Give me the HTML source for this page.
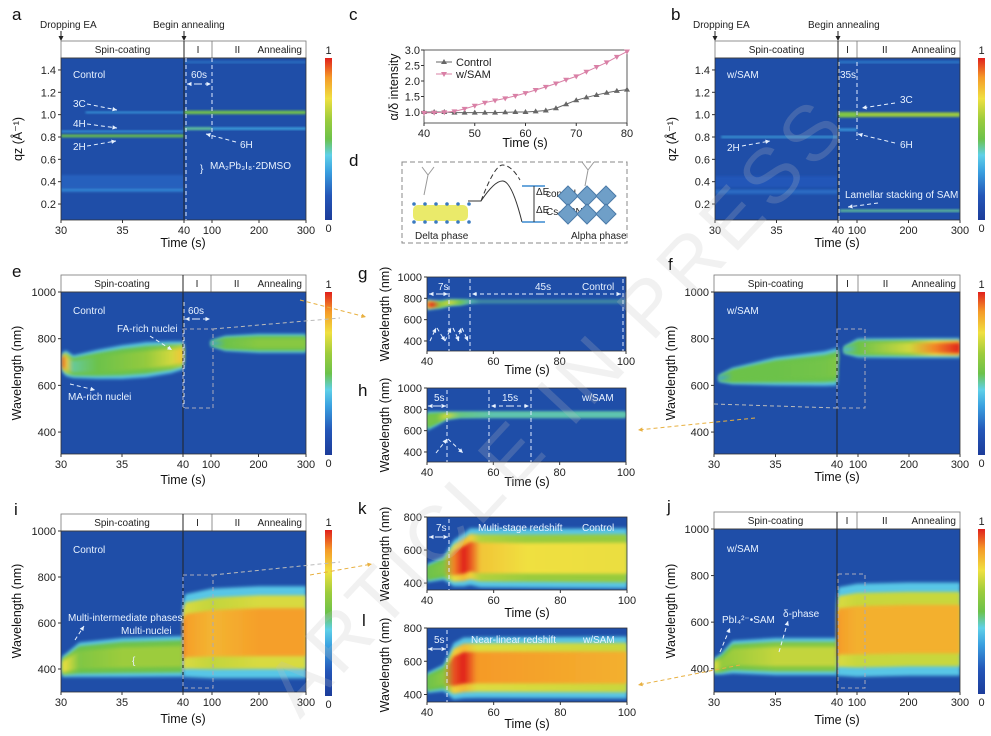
<!DOCTYPE html>
<html><head><meta charset="utf-8">
<style>
html,body{margin:0;padding:0;background:#fff;}
svg{display:block;font-family:"Liberation Sans",Arial,sans-serif;}
.tk{font-size:11px;fill:#222;}
.ttl{font-size:12.5px;fill:#111;}
.ann{font-size:10px;fill:#e8f2ff;}
.hd{font-size:10px;fill:#222;}
.let{font-size:17px;fill:#111;}
</style></head>
<body>
<svg id="fig" width="991" height="736" viewBox="0 0 991 736" xmlns="http://www.w3.org/2000/svg">
<defs>
<filter id="blur" x="-20%" y="-50%" width="140%" height="200%"><feGaussianBlur stdDeviation="1.6"/></filter>
<filter id="blur2" x="-20%" y="-50%" width="140%" height="200%"><feGaussianBlur stdDeviation="1"/></filter>
<linearGradient id="cbar" x1="0" y1="1" x2="0" y2="0">
<stop offset="0" stop-color="#1c3c9a"/><stop offset="0.15" stop-color="#2456b8"/><stop offset="0.3" stop-color="#3aa0e0"/><stop offset="0.4" stop-color="#5fd0e8"/><stop offset="0.5" stop-color="#6cc24a"/><stop offset="0.62" stop-color="#9ccc3c"/><stop offset="0.75" stop-color="#f0e040"/><stop offset="0.88" stop-color="#f59a28"/><stop offset="1" stop-color="#e0201c"/>
</linearGradient>
</defs>
<g id="root"></g>
</svg>
<script>
// ---------- DATA ----------
// panel c
const cTime = [40,42,44,46,48,50,52,54,56,58,60,62,64,66,68,70,72,74,76,78,80];
const cControl = [1.0,1.0,1.0,0.98,0.98,0.98,0.98,0.98,0.99,1.0,1.0,1.02,1.05,1.12,1.25,1.38,1.47,1.55,1.62,1.68,1.72];
const cSAM = [0.97,0.98,0.99,1.02,1.1,1.2,1.3,1.37,1.44,1.52,1.61,1.71,1.81,1.92,2.04,2.15,2.3,2.45,2.6,2.78,2.95];
const cYTicks = [1.0,1.5,2.0,2.5,3.0];
const cXTicks = [40,50,60,70,80];
// panel a bands (GIWAXS)
const aBandQ = [0.81,0.85,1.02,0.33,0.40,1.02,0.875,0.875,1.47,0.65,0.5,0.45];
const aBandStart = [30,30,32,30,30,40,40,100,40,40,40,40];
const aBandEnd = [40,40,40,40,40,300,100,300,300,41,41,41];
const aBandI = [0.5,0.3,0.3,0.24,0.17,0.52,0.45,0.32,0.22,0.2,0.2,0.2];
const aBandW = [0.025,0.015,0.015,0.04,0.12,0.03,0.025,0.02,0.015,0.01,0.01,0.01];
// panel b bands
const bBandQ = [0.80,1.0,1.0,0.865,1.47,0.14,0.31,0.40];
const bBandStart = [30.5,40,100,40,40,46,30,30];
const bBandEnd = [40,100,300,100,300,300,40,40];
const bBandI = [0.32,0.55,0.62,0.3,0.25,0.45,0.19,0.15];
const bBandW = [0.015,0.05,0.04,0.02,0.015,0.02,0.04,0.1];
// spectral heatmaps: segments of columns (time, centre nm, half-width nm, intensity)
const eTime = [[30.1,30.4,31,33,35,37,39,40,41.5],[100,130,200,300]];
const eCentre = [[700,695,680,690,700,710,720,728,740],[780,780,780,780]];
const eHalf = [[40,55,48,62,72,75,68,60,40],[12,32,40,40]];
const eInt = [[1.0,0.8,0.45,0.5,0.55,0.6,0.7,0.8,0.75],[0.3,0.5,0.57,0.57]];
const fTime = [[30.4,31.5,35,39,40,41,43],[60,100,200,250,300]];
const fCentre = [[630,640,660,672,680,720,735],[752,760,760,760,760]];
const fHalf = [[14,35,60,74,80,45,25],[15,40,42,42,42]];
const fInt = [[0.3,0.5,0.5,0.52,0.55,0.65,0.55],[0.35,0.5,0.7,0.9,1.0]];
const iTime = [[30.1,30.6,31.5,35,40],[40.3,41,45,100,200,300]];
const iCentre = [[410,420,440,450,455],[520,530,545,555,560,560]];
const iHalf = [[45,55,75,85,88],[150,165,180,195,200,200]];
const iInt = [[0.75,0.7,0.55,0.62,0.62],[1.0,0.95,0.87,0.83,0.87,0.87]];
const jTime = [[30,30.6,31.5,35,40],[40.3,41,45,100,200,300]];
const jCentre = [[410,420,450,452,452],[520,540,560,565,570,570]];
const jHalf = [[35,45,70,80,80],[150,175,190,200,200,200]];
const jInt = [[0.75,0.6,0.62,0.68,0.68],[1.0,0.95,0.87,0.84,0.84,0.84]];
const gTime = [[40,41.5,44,47,50,53,56,100]];
const gCentre = [[740,740,742,760,762,770,770,770]];
const gHalf = [[50,42,35,28,25,12,6,6]];
const gInt = [[0.9,1.0,0.62,0.72,0.52,0.35,0.2,0.18]];
const hTime = [[40,43,46,50,60,100]];
const hCentre = [[690,715,740,748,750,750]];
const hHalf = [[90,65,35,26,25,25]];
const hInt = [[0.52,0.52,0.72,0.45,0.38,0.38]];
const kTime = [[40,45,48,51,53,56,70,100]];
const kCentre = [[460,490,520,540,560,552,550,550]];
const kHalf = [[55,70,140,160,172,178,178,182]];
const kInt = [[0.5,0.55,0.9,1.0,0.95,0.8,0.75,0.74]];
const lTime = [[40,45,48,51,55,100]];
const lCentre = [[470,500,540,560,562,562]];
const lHalf = [[60,80,170,182,182,186]];
const lInt = [[0.5,0.58,0.95,1.0,0.88,0.84]];
const pieceTicks = [30,35,40,100,200,300];
const linTicks = [40,60,80,100];

// ---------- HELPERS ----------
const NS='http://www.w3.org/2000/svg';
const root=document.getElementById('root');
function el(tag,attrs,name,parent,inter){
  const e=document.createElementNS(NS,tag);
  for(const k in attrs) e.setAttribute(k,attrs[k]);
  
  
  (parent||root).appendChild(e); return e;
}
function txt(x,y,s,cls,name,extra,parent){
  const a=Object.assign({x:x,y:y,class:cls},extra||{});
  const t=el('text',a,name,parent); t.textContent=s; return t;
}
const CM=[[0,[28,60,154]],[0.15,[36,86,184]],[0.3,[58,160,224]],[0.4,[95,208,232]],[0.5,[108,194,74]],[0.62,[156,204,60]],[0.75,[240,224,64]],[0.88,[245,154,40]],[1,[224,32,28]]];
function cmap(v){v=Math.max(0,Math.min(1,v));for(let i=1;i<CM.length;i++){if(v<=CM[i][0]){const a=CM[i-1],b=CM[i];const f=(v-a[0])/(b[0]-a[0]);const c=a[1].map((q,j)=>Math.round(q+(b[1][j]-q)*f));return 'rgb('+c.join(',')+')';}}return 'rgb(224,32,28)';}
let gid=0;
function makeX(c){
  if(c.piece){return t=>{if(t<=40)return c.x0+(t-30)/10*(c.x40-c.x0);if(t<=100)return c.x40+(t-40)/60*(c.x100-c.x40);return c.x100+(t-100)/200*(c.x1-c.x100);};}
  return t=>c.x0+(t-c.tMin)/(c.tMax-c.tMin)*(c.x1-c.x0);
}
function makeY(c){return v=>c.y1-(v-c.vMin)/(c.vMax-c.vMin)*(c.y1-c.y0);}
function frame(c,name){
  const g=el('g',{},name);
  el('rect',{x:c.x0,y:c.y0,width:c.x1-c.x0,height:c.y1-c.y0,fill:'#1f4ea8'},name+'-background',g);
  const cp=el('clipPath',{id:'clip'+(++gid)},name+'-clip',g);
  el('rect',{x:c.x0,y:c.y0,width:c.x1-c.x0,height:c.y1-c.y0},name+'-clip-rect',cp);
  const inner=el('g',{'clip-path':'url(#clip'+gid+')'},name+'-marks',g);
  c.g=g;c.inner=inner;c.X=makeX(c);c.Y=makeY(c);return c;
}
function axes(c,name,yTicks,yFmt,xTicks){
  const g=c.g;
  el('rect',{x:c.x0,y:c.y0,width:c.x1-c.x0,height:c.y1-c.y0,fill:'none',stroke:'#333','stroke-width':0.8},name+'-axes-box',g);
  yTicks.forEach(v=>{const y=c.Y(v);
    el('line',{x1:c.x0-3,x2:c.x0,y1:y,y2:y,stroke:'#333'},name+'-y-tick',g);
    txt(c.x0-5,y+4,yFmt(v),'tk',name+'-y-tick-label',{'text-anchor':'end'},g);});
  xTicks.forEach(v=>{const x=c.X(v);
    el('line',{x1:x,x2:x,y1:c.y1,y2:c.y1+3,stroke:'#333'},name+'-x-tick',g);
    txt(x,c.y1+14,String(v),'tk',name+'-x-tick-label',{'text-anchor':'middle'},g);});
}
function header(c,name){
  const g=c.g,h=17,y=c.y0-h;
  el('rect',{x:c.x0,y:y,width:c.x1-c.x0,height:h,fill:'#fff',stroke:'#777','stroke-width':0.8},name+'-header',g);
  el('line',{x1:c.x40,x2:c.x40,y1:y,y2:c.y1,stroke:'#222','stroke-width':1},name+'-divider-40',g);
  el('line',{x1:c.x100,x2:c.x100,y1:y,y2:c.y0,stroke:'#777','stroke-width':0.8},name+'-divider-100',g);
  txt((c.x0+c.x40)/2,y+12,'Spin-coating','hd',name+'-header-spin',{'text-anchor':'middle'},g);
  txt((c.x40+c.x100)/2,y+12,'I','hd',name+'-header-I',{'text-anchor':'middle'},g);
  txt(c.x100+(c.x1-c.x100)*0.27,y+12,'II','hd',name+'-header-II',{'text-anchor':'middle'},g);
  txt(c.x1-4,y+12,'Annealing','hd',name+'-header-annealing',{'text-anchor':'end'},g);
}
function bands(c,Q,S,E,I,W,name){
  for(let i=0;i<Q.length;i++){
    const x0=c.X(S[i]),x1=c.X(E[i]),yt=c.Y(Q[i]+W[i]/2),yb=c.Y(Q[i]-W[i]/2);
    el('rect',{x:x0,y:yt,width:Math.max(1,x1-x0),height:Math.max(1.5,yb-yt),fill:cmap(I[i]),filter:'url(#blur2)'},name+'-band',c.inner);
  }
}
function blobs(c,T,C,H,I,name){
  const layers=[[1.0,v=>0.38],[0.8,v=>Math.max(0.5,v*0.82)],[0.52,v=>v]];
  for(let s=0;s<T.length;s++){
    const t=T[s];const xs=t.map(c.X);const xmin=xs[0],xmax=xs[xs.length-1];
    layers.forEach((L,li)=>{
      const id='bg'+(++gid);
      const gr=el('linearGradient',{id:id,gradientUnits:'userSpaceOnUse',x1:xmin,x2:xmax,y1:0,y2:0},name+'-gradient',c.inner);
      xs.forEach((x,k)=>{el('stop',{offset:((x-xmin)/(xmax-xmin||1)).toFixed(4),'stop-color':cmap(L[1](I[s][k]))},name+'-stop',gr);});
      let pts=[];
      for(let k=0;k<t.length;k++)pts.push(xs[k]+','+c.Y(C[s][k]+H[s][k]*L[0]));
      for(let k=t.length-1;k>=0;k--)pts.push(xs[k]+','+c.Y(C[s][k]-H[s][k]*L[0]));
      el('polygon',{points:pts.join(' '),fill:'url(#'+id+')',filter:'url(#blur)'},name+'-layer-'+li,c.inner);
    });
  }
}
function cbar(x,y0,y1,name){
  el('rect',{x:x,y:y0,width:7,height:y1-y0,fill:'url(#cbar)'},name,root);
  txt(x+3.5,y0-4,'1','tk',name+'-max',{'text-anchor':'middle'});
  txt(x+3.5,y1+12,'0','tk',name+'-min',{'text-anchor':'middle'});
}
function vtitle(x,y,s,name,size){txt(x,y,s,'ttl',name,{'text-anchor':'middle',transform:'rotate(-90 '+x+' '+y+')','font-size':size||12.5});}
function dash(x1,y1,x2,y2,name,col,w){el('line',{x1:x1,y1:y1,x2:x2,y2:y2,stroke:col||'#dfe9ff','stroke-width':w||1,'stroke-dasharray':'4 3'},name);}
function arrow(x1,y1,x2,y2,name,col){
  col=col||'#e8f2ff';dash(x1,y1,x2,y2,name,col);
  const a=Math.atan2(y2-y1,x2-x1),L=5;
  const p=[x2+','+y2,(x2-L*Math.cos(a-0.45))+','+(y2-L*Math.sin(a-0.45)),(x2-L*Math.cos(a+0.45))+','+(y2-L*Math.sin(a+0.45))];
  el('polygon',{points:p.join(' '),fill:col},name+'-head');
}
const f1=v=>v.toFixed(1);const f0=v=>String(v);

// ---------- PANEL a ----------
const A=frame({piece:1,x0:61,x40:184,x100:212,x1:306,y0:58,y1:220,vMin:0.057,vMax:1.507},'panel-a');
bands(A,aBandQ,aBandStart,aBandEnd,aBandI,aBandW,'panel-a');
header(A,'panel-a');axes(A,'panel-a',[0.2,0.4,0.6,0.8,1.0,1.2,1.4],f1,pieceTicks);
// ---------- PANEL b ----------
const B=frame({piece:1,x0:715,x40:838,x100:857,x1:960,y0:58,y1:220,vMin:0.057,vMax:1.507},'panel-b');
bands(B,bBandQ,bBandStart,bBandEnd,bBandI,bBandW,'panel-b');
header(B,'panel-b');axes(B,'panel-b',[0.2,0.4,0.6,0.8,1.0,1.2,1.4],f1,pieceTicks);
// ---------- PANEL e,f,i,j ----------
const E=frame({piece:1,x0:61,x40:183,x100:211,x1:306,y0:292,y1:454,vMin:306,vMax:1000},'panel-e');
blobs(E,eTime,eCentre,eHalf,eInt,'panel-e');header(E,'panel-e');axes(E,'panel-e',[400,600,800,1000],f0,pieceTicks);
const F=frame({piece:1,x0:714,x40:837,x100:858,x1:960,y0:292,y1:454,vMin:306,vMax:1000},'panel-f');
blobs(F,fTime,fCentre,fHalf,fInt,'panel-f');header(F,'panel-f');axes(F,'panel-f',[400,600,800,1000],f0,pieceTicks);
const I=frame({piece:1,x0:61,x40:183,x100:212,x1:306,y0:531,y1:692,vMin:300,vMax:1000},'panel-i');
blobs(I,iTime,iCentre,iHalf,iInt,'panel-i');header(I,'panel-i');axes(I,'panel-i',[400,600,800,1000],f0,pieceTicks);
const J=frame({piece:1,x0:714,x40:837,x100:857,x1:960,y0:529,y1:692,vMin:300,vMax:1000},'panel-j');
blobs(J,jTime,jCentre,jHalf,jInt,'panel-j');header(J,'panel-j');axes(J,'panel-j',[400,600,800,1000],f0,pieceTicks);
// ---------- PANEL g,h,k,l ----------
const G=frame({tMin:40,tMax:100,x0:427,x1:626,y0:277,y1:351,vMin:306,vMax:1000},'panel-g');
blobs(G,gTime,gCentre,gHalf,gInt,'panel-g');axes(G,'panel-g',[400,600,800,1000],f0,linTicks);
const H=frame({tMin:40,tMax:100,x0:427,x1:626,y0:388,y1:462,vMin:306,vMax:1000},'panel-h');
blobs(H,hTime,hCentre,hHalf,hInt,'panel-h');axes(H,'panel-h',[400,600,800,1000],f0,linTicks);
const K=frame({tMin:40,tMax:100,x0:427,x1:627,y0:517,y1:590,vMin:358,vMax:800},'panel-k');
blobs(K,kTime,kCentre,kHalf,kInt,'panel-k');axes(K,'panel-k',[400,600,800],f0,linTicks);
const L=frame({tMin:40,tMax:100,x0:427,x1:627,y0:628,y1:702,vMin:355,vMax:800},'panel-l');
blobs(L,lTime,lCentre,lHalf,lInt,'panel-l');axes(L,'panel-l',[400,600,800],f0,linTicks);

// ---------- PANEL c ----------
const Cc={tMin:40,tMax:80,x0:424,x1:627,y0:50,y1:123,vMin:0.645,vMax:3.0};
Cc.X=makeX(Cc);Cc.Y=makeY(Cc);
const cg=el('g',{},'panel-c');
el('rect',{x:Cc.x0,y:Cc.y0,width:Cc.x1-Cc.x0,height:Cc.y1-Cc.y0,fill:'#fff',stroke:'#333','stroke-width':0.8},'panel-c-axes-box',cg);
cYTicks.forEach(v=>{const y=Cc.Y(v);el('line',{x1:Cc.x0-3,x2:Cc.x0,y1:y,y2:y,stroke:'#333'},'panel-c-y-tick',cg);txt(Cc.x0-4,y+4,v.toFixed(1),'tk','panel-c-y-tick-label',{'text-anchor':'end'},cg);});
cXTicks.forEach(v=>{const x=Cc.X(v);el('line',{x1:x,x2:x,y1:Cc.y1,y2:Cc.y1+3,stroke:'#333'},'panel-c-x-tick',cg);txt(x,Cc.y1+14,String(v),'tk','panel-c-x-tick-label',{'text-anchor':'middle'},cg);});
function series(vals,col,up,name){
  el('polyline',{points:cTime.map((t,i)=>Cc.X(t)+','+Cc.Y(vals[i])).join(' '),fill:'none',stroke:col,'stroke-width':1},name+'-line',cg);
  cTime.forEach((t,i)=>{const x=Cc.X(t),y=Cc.Y(vals[i]);const p=up?[x+','+(y-3),(x-3)+','+(y+2),(x+3)+','+(y+2)]:[x+','+(y+3),(x-3)+','+(y-2),(x+3)+','+(y-2)];
    el('polygon',{points:p.join(' '),fill:col},name+'-marker',cg);});
}
series(cControl,'#666',true,'series-control');
series(cSAM,'#d980a6',false,'series-sam');
el('line',{x1:436,x2:452,y1:62,y2:62,stroke:'#666'},'legend-control-line',cg);
el('polygon',{points:'444,59 441,64 447,64',fill:'#666'},'legend-control-marker',cg);
txt(456,66,'Control','tk','legend-control-label',{},cg);
el('line',{x1:436,x2:452,y1:74,y2:74,stroke:'#d980a6'},'legend-sam-line',cg);
el('polygon',{points:'444,77 441,72 447,72',fill:'#d980a6'},'legend-sam-marker',cg);
txt(456,78,'w/SAM','tk','legend-sam-label',{},cg);
vtitle(398,87,'α/δ intensity','panel-c-y-title',12);
txt(525,147,'Time (s)','ttl','panel-c-x-title',{'text-anchor':'middle'});

// ---------- colorbars ----------
cbar(325,58,220,'colorbar-a');cbar(978,58,220,'colorbar-b');
cbar(325,292,455,'colorbar-e');cbar(978,292,455,'colorbar-f');
cbar(325,530,696,'colorbar-i');cbar(978,529,694,'colorbar-j');

// ---------- axis titles ----------
vtitle(22,139,'qz (Å⁻¹)','panel-a-y-title',14);vtitle(676,139,'qz (Å⁻¹)','panel-b-y-title',14);
txt(183,247,'Time (s)','ttl','panel-a-x-title',{'text-anchor':'middle'});
txt(837,247,'Time (s)','ttl','panel-b-x-title',{'text-anchor':'middle'});
vtitle(21,373,'Wavelength (nm)','panel-e-y-title');vtitle(675,373,'Wavelength (nm)','panel-f-y-title');
vtitle(21,611,'Wavelength (nm)','panel-i-y-title');vtitle(675,611,'Wavelength (nm)','panel-j-y-title');
txt(183,484,'Time (s)','ttl','panel-e-x-title',{'text-anchor':'middle'});
txt(837,481,'Time (s)','ttl','panel-f-x-title',{'text-anchor':'middle'});
txt(183,723,'Time (s)','ttl','panel-i-x-title',{'text-anchor':'middle'});
txt(837,724,'Time (s)','ttl','panel-j-x-title',{'text-anchor':'middle'});
vtitle(389,314,'Wavelength (nm)','panel-g-y-title',10);vtitle(389,425,'Wavelength (nm)','panel-h-y-title',10);
vtitle(389,554,'Wavelength (nm)','panel-k-y-title',10);vtitle(389,665,'Wavelength (nm)','panel-l-y-title',10);
txt(527,374,'Time (s)','ttl','panel-g-x-title',{'text-anchor':'middle'});
txt(527,486,'Time (s)','ttl','panel-h-x-title',{'text-anchor':'middle'});
txt(527,617,'Time (s)','ttl','panel-k-x-title',{'text-anchor':'middle'});
txt(527,728,'Time (s)','ttl','panel-l-x-title',{'text-anchor':'middle'});

// ---------- panel letters ----------
[['a',12,20],['c',349,20],['b',671,20],['d',349,166],['e',12,277],['g',358,279],['h',358,396],['f',668,270],['i',14,515],['k',358,514],['j',667,512],['l',362,626]]
.forEach(p=>txt(p[1],p[2],p[0],'let','panel-letter-'+p[0]));

// ---------- annotations a / b ----------
[['Dropping EA',40,28],['Begin annealing',153,28],['Dropping EA',693,28],['Begin annealing',808,28]].forEach(a=>txt(a[1],a[2],a[0],'hd','event-label',{}));
[[61],[184],[715],[838]].forEach(a=>{el('line',{x1:a[0],x2:a[0],y1:31,y2:40,stroke:'#222'},'event-arrow');el('polygon',{points:(a[0]-2.5)+',36 '+(a[0]+2.5)+',36 '+a[0]+',41',fill:'#222'},'event-arrow-head');});
txt(73,78,'Control','ann','label-control-a');
txt(73,107,'3C','ann','label-3c-a');arrow(87,104,117,110,'arrow-3c-a');
txt(73,127,'4H','ann','label-4h-a');arrow(87,124,117,128,'arrow-4h-a');
txt(73,150,'2H','ann','label-2h-a');arrow(87,146,116,141,'arrow-2h-a');
dash(186,58,186,220,'dash-60s-a');dash(212,58,212,140,'dash-100-a');
txt(199,78,'60s','ann','label-60s-a',{'text-anchor':'middle'});arrow(198,84,187,84,'arrow-60s-l');arrow(198,84,211,84,'arrow-60s-r');
txt(240,148,'6H','ann','label-6h-a');arrow(236,142,206,134,'arrow-6h-a');
txt(200,172,'}','ann','brace-a',{'font-size':20});
txt(210,169,'MA₂Pb₃I₈·2DMSO','ann','label-ma-dmso',{'font-size':9.5});
txt(727,78,'w/SAM','ann','label-sam-b');
dash(839,62,839,220,'dash-35s-b');dash(857,62,857,140,'dash-100-b');
txt(848,78,'35s','ann','label-35s-b',{'text-anchor':'middle'});
txt(900,103,'3C','ann','label-3c-b');arrow(895,103,862,108,'arrow-3c-b');
txt(900,148,'6H','ann','label-6h-b');arrow(895,143,858,134,'arrow-6h-b');
txt(727,151,'2H','ann','label-2h-b');arrow(742,146,770,141,'arrow-2h-b');
txt(845,198,'Lamellar stacking of SAM','ann','label-lamellar',{'font-size':9.5});arrow(878,203,848,207,'arrow-lamellar');

// ---------- annotations e / f ----------
txt(73,314,'Control','ann','label-control-e');
txt(117,332,'FA-rich nuclei','ann','label-fa-rich');arrow(150,336,172,350,'arrow-fa-rich');
txt(68,400,'MA-rich nuclei','ann','label-ma-rich');arrow(70,384,95,390,'arrow-ma-rich');
dash(184,302,184,408,'dash-60s-e');
txt(196,314,'60s','ann','label-60s-e',{'text-anchor':'middle'});arrow(196,319,185,319,'arrow-60s-e-l');arrow(196,319,210,319,'arrow-60s-e-r');
el('rect',{x:183,y:329,width:30,height:79,fill:'none',stroke:'#aab','stroke-width':1,'stroke-dasharray':'4 3'},'zoom-box-e');
txt(727,314,'w/SAM','ann','label-sam-f');
el('rect',{x:837,y:329,width:28,height:79,fill:'none',stroke:'#aab','stroke-width':1,'stroke-dasharray':'4 3'},'zoom-box-f');
dash(213,329,340,318,'connector-e-g','#bbb');dash(714,404,837,408,'connector-f-h','#bbb');
// ---------- annotations i / j ----------
txt(73,553,'Control','ann','label-control-i');
txt(68,621,'Multi-intermediate phases','ann','label-multi-intermediate');arrow(75,640,84,626,'arrow-multi-intermediate');
txt(121,634,'Multi-nuclei','ann','label-multi-nuclei');
txt(132,664,'{','ann','brace-i',{'font-size':20,'fill':'#fff'});
el('rect',{x:183,y:575,width:30,height:113,fill:'none',stroke:'#aab','stroke-width':1,'stroke-dasharray':'4 3'},'zoom-box-i');
dash(213,575,340,562,'connector-i-k','#bbb');
txt(722,623,'PbI₄²⁻•SAM','ann','label-pbi-sam');arrow(720,652,730,628,'arrow-pbi-sam');
txt(727,552,'w/SAM','ann','label-sam-j');
txt(783,617,'δ-phase','ann','label-delta-phase');arrow(779,652,788,621,'arrow-delta-phase');
el('rect',{x:838,y:574,width:27,height:114,fill:'none',stroke:'#aab','stroke-width':1,'stroke-dasharray':'4 3'},'zoom-box-j');
// ---------- annotations g,h,k,l ----------
dash(449,279,449,351,'dash-g-1');dash(470,279,470,351,'dash-g-2');dash(623,279,623,351,'dash-g-3');
txt(438,290,'7s','ann','label-7s-g');arrow(440,294,429,294,'arrow-7s-l');arrow(440,294,448,294,'arrow-7s-r');
txt(535,290,'45s','ann','label-45s-g');arrow(540,294,472,294,'arrow-45s-l');arrow(540,294,621,294,'arrow-45s-r');
txt(582,290,'Control','ann','label-control-g');
arrow(430,341,436,328,'arrow-g-1');arrow(437,328,445,341,'arrow-g-2');arrow(445,341,451,328,'arrow-g-3');arrow(453,328,459,341,'arrow-g-4');arrow(458,341,461,328,'arrow-g-5');arrow(462,328,468,341,'arrow-g-6');
dash(447,390,447,462,'dash-h-1');dash(489,390,489,462,'dash-h-2');dash(531,390,531,462,'dash-h-3');
txt(434,401,'5s','ann','label-5s-h');arrow(437,406,428,406,'arrow-5s-l');arrow(437,406,446,406,'arrow-5s-r');
txt(502,401,'15s','ann','label-15s-h');arrow(510,406,491,406,'arrow-15s-l');arrow(510,406,529,406,'arrow-15s-r');
txt(582,401,'w/SAM','ann','label-sam-h');
arrow(436,453,447,439,'arrow-h-1');arrow(448,439,463,453,'arrow-h-2');
dash(449,519,449,590,'dash-k');
txt(436,531,'7s','ann','label-7s-k');arrow(439,537,429,537,'arrow-7s-k-l');arrow(439,537,448,537,'arrow-7s-k-r');
txt(478,531,'Multi-stage redshift','ann','label-multi-stage',{'font-size':9.5});
txt(582,531,'Control','ann','label-control-k');
dash(447,630,447,702,'dash-l');
txt(434,643,'5s','ann','label-5s-l');arrow(437,649,428,649,'arrow-5s-l-l');arrow(437,649,446,649,'arrow-5s-l-r');
txt(471,643,'Near-linear redshift','ann','label-near-linear',{'font-size':9.5});
txt(583,643,'w/SAM','ann','label-sam-l');
// orange connectors
arrow(300,300,366,317,'orange-arrow-e-g','#e8b040');arrow(755,418,638,430,'orange-arrow-f-h','#e8b040');
arrow(310,575,372,564,'orange-arrow-i-k','#e8b040');arrow(740,665,638,685,'orange-arrow-l-j','#e8b040');

// ---------- panel d schematic ----------
el('rect',{x:402,y:162,width:225,height:81,fill:'none',stroke:'#888','stroke-dasharray':'5 3'},'panel-d-box');
el('rect',{x:413,y:205,width:55,height:16,rx:5,fill:'#e6e650',opacity:0.85},'delta-phase-crystal');
for(let k=0;k<6;k++){el('circle',{cx:414+k*11,cy:204,r:1.8,fill:'#3a7ac0'},'delta-atom');el('circle',{cx:414+k*11,cy:222,r:1.8,fill:'#3a7ac0'},'delta-atom');}
el('path',{d:'M424,195 L428,175 M428,175 l-6,-8 M428,175 l6,-8',stroke:'#999','stroke-width':1,fill:'none'},'sam-molecule-left');
el('path',{d:'M468,201 L481,201 Q495,180 503,181 Q512,182 522,222',stroke:'#333','stroke-width':1,fill:'none'},'energy-curve');
el('path',{d:'M481,201 Q495,164 503,165 Q512,166 520,180',stroke:'#333','stroke-width':1,fill:'none','stroke-dasharray':'5 3'},'energy-curve-dashed');
el('line',{x1:522,x2:545,y1:186,y2:186,stroke:'#3a8ad0','stroke-width':1.5},'energy-level-top');
el('line',{x1:522,x2:545,y1:222,y2:222,stroke:'#3a8ad0','stroke-width':1.5},'energy-level-bottom');
el('line',{x1:534,x2:534,y1:186,y2:222,stroke:'#333'},'energy-gap-line');
txt(536,195,'ΔE','hd','label-e-control',{'font-size':7});txt(546,197,'control','hd','label-e-control-sub',{'font-size':4});
txt(536,213,'ΔE','hd','label-e-cs',{'font-size':7});txt(546,215,'Cs-SCN','hd','label-e-cs-sub',{'font-size':4});
for(let r=0;r<2;r++)for(let k=0;k<3;k++){const cx=568+k*19,cy=196+r*18;el('polygon',{points:cx+','+(cy-10)+' '+(cx+10)+','+cy+' '+cx+','+(cy+10)+' '+(cx-10)+','+cy,fill:'#6f9fc8',stroke:'#4a7aa8'},'alpha-octahedron');}
el('path',{d:'M585,186 L588,170 M588,170 l-6,-8 M588,170 l6,-8',stroke:'#999','stroke-width':1,fill:'none'},'sam-molecule-right');
txt(415,239,'Delta phase','hd','label-delta');txt(571,239,'Alpha phase','hd','label-alpha');

// watermark
txt(300,720,'ARTICLE IN PRESS','wm','watermark',{transform:'rotate(-47 300 720)','font-size':78,'fill':'rgba(190,190,190,0.22)','letter-spacing':'6'});
</script>
</body></html>
